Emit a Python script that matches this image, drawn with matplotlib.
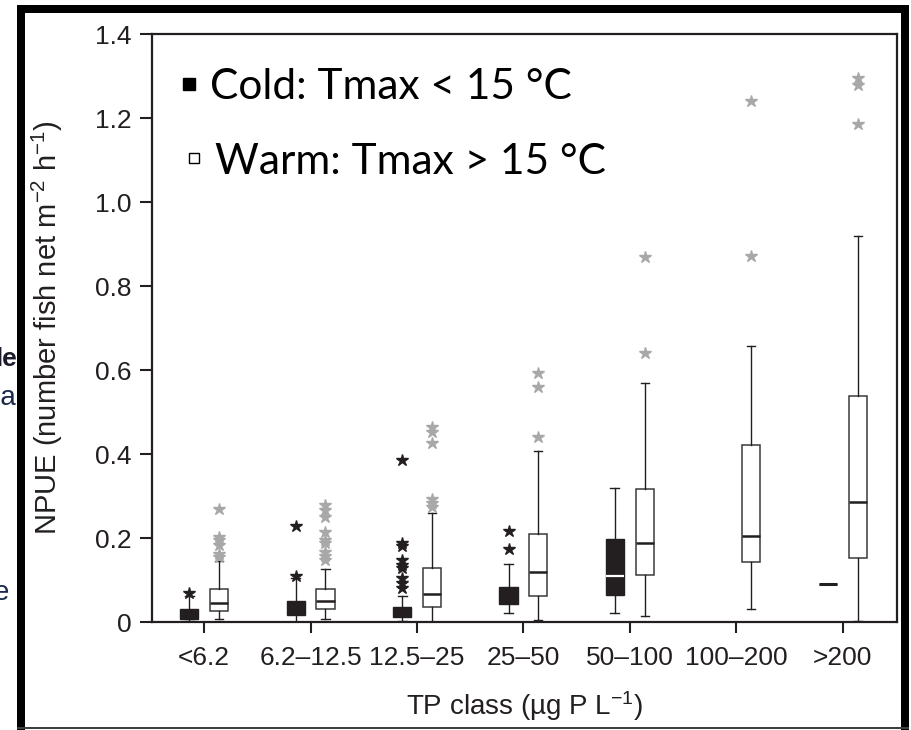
import numpy as np
import matplotlib
matplotlib.use("Agg")
import matplotlib.pyplot as plt
from matplotlib.patches import Rectangle

# TP classes and NPUE box statistics
classes = ['<6.2', '6.2–12.5', '12.5–25', '25–50', '50–100', '100–200', '>200']
nan = np.nan

# cold lakes (Tmax < 15 C), no data for 100-200
cold_lo = [0.003, 0.0, 0.002, 0.021, 0.022, nan, 0.09]
cold_q1 = [0.007, 0.016, 0.013, 0.044, 0.064, nan, 0.09]
cold_med = [nan, nan, nan, nan, 0.110, nan, 0.09]
cold_q3 = [0.031, 0.051, 0.036, 0.084, 0.198, nan, 0.09]
cold_hi = [0.062, 0.105, 0.063, 0.137, 0.32, nan, 0.09]
cold_out = [[0.07],
            [0.11, 0.229],
            [0.08, 0.092, 0.104, 0.128, 0.136, 0.148, 0.181, 0.187, 0.385],
            [0.173, 0.217],
            [], [], []]

# warm lakes (Tmax > 15 C)
warm_lo = [0.008, 0.008, 0.0, 0.005, 0.015, 0.031, 0.002]
warm_q1 = [0.027, 0.030, 0.036, 0.063, 0.111, 0.143, 0.152]
warm_med = [0.045, 0.051, 0.067, 0.119, 0.187, 0.205, 0.285]
warm_q3 = [0.078, 0.078, 0.129, 0.209, 0.317, 0.421, 0.538]
warm_hi = [0.146, 0.126, 0.259, 0.406, 0.57, 0.656, 0.92]
warm_out = [[0.155, 0.162, 0.183, 0.195, 0.203, 0.268],
            [0.148, 0.156, 0.167, 0.187, 0.195, 0.215, 0.249, 0.267, 0.279],
            [0.275, 0.283, 0.293, 0.426, 0.452, 0.464],
            [0.44, 0.559, 0.594],
            [0.64, 0.869],
            [0.871, 1.24],
            [1.186, 1.279, 1.296]]

yticks = [0, 0.2, 0.4, 0.6, 0.8, 1.0, 1.2, 1.4]
ytick_labels = ['0', '0.2', '0.4', '0.6', '0.8', '1.0', '1.2', '1.4']

W, H = 911, 730
ink = '#231f20'
plt.rcParams['font.family'] = ['Liberation Sans', 'DejaVu Sans']
plt.rcParams['mathtext.fontset'] = 'custom'
plt.rcParams['mathtext.rm'] = 'Liberation Sans'
plt.rcParams['mathtext.it'] = 'Liberation Sans:italic'


def stats(lo, q1, med, q3, hi, out):
    res, pos = [], []
    for i in range(len(q1)):
        if np.isnan(q1[i]):
            continue
        res.append(dict(whislo=lo[i], q1=q1[i], med=med[i], q3=q3[i],
                        whishi=hi[i], fliers=out[i]))
        pos.append(i)
    return res, np.array(pos, dtype=float)


fig = plt.figure(figsize=(W / 100, H / 100), dpi=100)
fig.patch.set_facecolor('white')
ax = fig.add_axes([152 / W, 1 - 622 / H, (897 - 152) / W, (622 - 34) / H])

off, bw = 0.14, 0.17

cs, cpos = stats(cold_lo, cold_q1, cold_med, cold_q3, cold_hi, cold_out)
bc = ax.bxp(cs, positions=cpos - off, widths=bw, patch_artist=True,
            capwidths=bw * 0.5, manage_ticks=False,
            boxprops=dict(facecolor=ink, edgecolor=ink, linewidth=1.0),
            whiskerprops=dict(color=ink, linewidth=1.0),
            capprops=dict(color=ink, linewidth=1.0),
            medianprops=dict(color='white', linewidth=1.6),
            flierprops=dict(marker='*', markersize=9, markerfacecolor=ink,
                            markeredgecolor=ink, linestyle='none'))
for s, line in zip(cs, bc['medians']):
    if s['q1'] == s['q3']:
        line.set_color(ink)
        line.set_linewidth(2.2)

ws, wpos = stats(warm_lo, warm_q1, warm_med, warm_q3, warm_hi, warm_out)
ax.bxp(ws, positions=wpos + off, widths=bw, patch_artist=True,
       capwidths=bw * 0.45, manage_ticks=False,
       boxprops=dict(facecolor='white', edgecolor='#3a3a3a', linewidth=1.1),
       whiskerprops=dict(color=ink, linewidth=1.0),
       capprops=dict(color=ink, linewidth=1.0),
       medianprops=dict(color=ink, linewidth=1.8),
       flierprops=dict(marker='*', markersize=9, markerfacecolor='#a8a8a8',
                       markeredgecolor='#a8a8a8', linestyle='none'))

ax.set_xlim(-0.49, 6.51)
ax.set_ylim(0, 1.4)
ax.set_xticks(range(len(classes)))
ax.set_xticklabels(classes)
ax.set_yticks(yticks)
ax.set_yticklabels(ytick_labels)
ax.tick_params(axis='x', direction='out', length=8, width=1.5, pad=9,
               labelsize=19, colors=ink)
ax.tick_params(axis='y', direction='out', length=9, width=1.5, pad=6,
               labelsize=19, colors=ink)
for sp in ax.spines.values():
    sp.set_linewidth(1.6)
    sp.set_color(ink)

ax.set_ylabel('NPUE (number fish net m$^{-2}$ h$^{-1}$)', fontsize=21, color=ink)
ax.yaxis.set_label_coords(-(152 - 65) / (897 - 152), 0.5)
ax.set_xlabel('TP class (µg P L$^{-1}$)', fontsize=20, color=ink, labelpad=14)

# legend written as text, as on the slide
fig.lines.append(plt.Line2D([188.5 / W], [1 - 84 / H], marker='s', markersize=8,
                            color='black', transform=fig.transFigure))
fig.lines.append(plt.Line2D([194 / W], [1 - 158 / H], marker='s', markersize=7,
                            markerfacecolor='white', markeredgecolor='black',
                            markeredgewidth=1.0, transform=fig.transFigure))
fig.text(210 / W, 1 - 99 / H, 'Cold: Tmax < 15 °C', fontsize=30.5,
         family=['Lato', 'DejaVu Sans'], va='baseline', color='black')
fig.text(215 / W, 1 - 174 / H, 'Warm: Tmax > 15 °C', fontsize=30.5,
         family=['Lato', 'DejaVu Sans'], va='baseline', color='black')

# bits of the neighbouring slide text cut off on the left
fig.text(18 / W, 1 - 366 / H, 'de', fontsize=19, weight='bold', ha='right',
         va='baseline', color='#1b1b2b')
fig.text(16 / W, 1 - 405 / H, 'na', fontsize=20, ha='right', va='baseline',
         color='#1b2a4a')
fig.text(9 / W, 1 - 600 / H, 'e', fontsize=20, ha='right', va='baseline',
         color='#1b2a4a')

# thick black frame around the picture
def frame(x0, y0, x1, y1, color='black'):
    fig.patches.append(Rectangle((x0 / W, 1 - y1 / H), (x1 - x0) / W, (y1 - y0) / H,
                                 transform=fig.transFigure, facecolor=color,
                                 edgecolor='none', zorder=10))


frame(17, 5, 909, 13)
frame(17, 5, 25, 730)
frame(901, 5, 909, 730)
frame(17, 727, 909, 729, color='#404040')

fig.savefig('out.png', dpi=100)
